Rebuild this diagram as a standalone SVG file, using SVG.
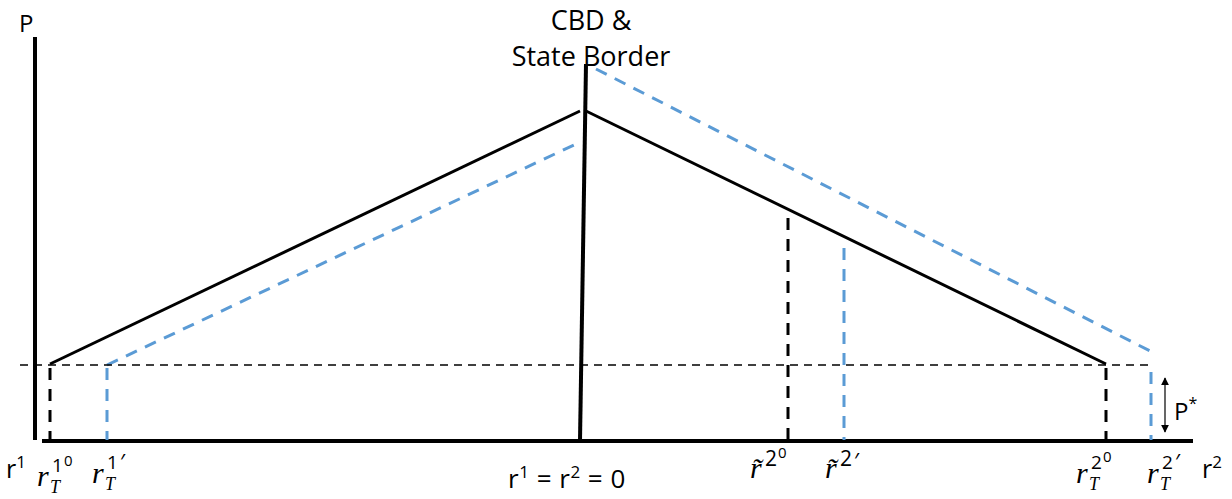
<svg xmlns="http://www.w3.org/2000/svg" width="1232" height="499" viewBox="0 0 1232 499">
<style>
.t{font-family:"Open Sans","Liberation Sans",sans-serif;fill:#000;}
.m{font-family:"Liberation Serif",serif;font-style:italic;fill:#000;}
.ax{stroke:#000;stroke-width:4;fill:none;}
.bl{stroke:#000;stroke-width:3;fill:none;}
.bd{stroke:#000;stroke-width:3;fill:none;stroke-dasharray:12,9;}
.hd{stroke:#000;stroke-width:1.5;fill:none;stroke-dasharray:8,6;}
.ud{stroke:#5b9bd5;stroke-width:3;fill:none;stroke-dasharray:12,9;}
</style>
<defs>
<marker id="ah" viewBox="0 0 10 10" refX="9" refY="5" markerWidth="8" markerHeight="8" orient="auto-start-reverse" markerUnits="userSpaceOnUse">
<path d="M0,0 L10,5 L0,10 z" fill="#000"/>
</marker>
</defs>
<rect width="1232" height="499" fill="#fff"/>
<g id="axes">
<line class="ax" x1="35" y1="37" x2="35" y2="440"/>
<line class="ax" x1="42" y1="441" x2="1193" y2="441"/>
<line class="ax" x1="586" y1="64" x2="580" y2="441"/>
</g>
<g id="connectors">
<line class="bl" x1="50" y1="364" x2="580" y2="111"/>
<line class="bl" x1="586" y1="111" x2="1106" y2="364"/>
<line class="ud" x1="107" y1="365" x2="576" y2="144"/>
<line class="ud" x1="596" y1="69" x2="1152" y2="352"/>
<line class="hd" x1="20" y1="365" x2="1148" y2="365"/>
<line class="bd" x1="50" y1="368" x2="50" y2="440"/>
<line class="ud" x1="107" y1="368" x2="107" y2="440"/>
<line class="bd" x1="788" y1="218" x2="788" y2="440"/>
<line class="ud" x1="844" y1="248" x2="844" y2="440"/>
<line class="bd" x1="1106" y1="368" x2="1106" y2="440"/>
<line class="ud" x1="1151" y1="372" x2="1151" y2="440"/>
<line stroke="#000" stroke-width="1.2" x1="1165" y1="378" x2="1165" y2="432" marker-start="url(#ah)" marker-end="url(#ah)"/>
</g>
<g id="labels">
<text class="t" x="19" y="32" font-size="24">P</text>
<text class="t" x="591" y="30" font-size="27" text-anchor="middle">CBD &amp;</text>
<text class="t" x="591" y="66" font-size="27" text-anchor="middle">State Border</text>
<text class="t" x="1174" y="420" font-size="24">P<tspan font-size="16" dy="-11">*</tspan></text>
<text class="t" x="6" y="478" font-size="25">r<tspan font-size="17" dy="-10">1</tspan></text>
<text class="m" x="37" y="486" font-size="30">r</text><text class="m" x="50" y="493" font-size="18">T</text><text class="t" x="52" y="472" font-size="19">1</text><text class="t" x="64" y="466" font-size="15">0</text>
<text class="m" x="92" y="483" font-size="30">r</text><text class="m" x="105" y="490" font-size="18">T</text><text class="t" x="107" y="469" font-size="19">1</text><text class="t" x="120" y="470" font-size="22">′</text>
<text class="t" x="508" y="488" font-size="26" letter-spacing="0.5">r<tspan font-size="17" dy="-10">1</tspan><tspan dy="10"> = r</tspan><tspan font-size="17" dy="-10">2</tspan><tspan dy="10">  = 0</tspan></text>
<text class="m" x="750" y="478" font-size="30">r̃</text><text class="t" x="765" y="466" font-size="21">2</text><text class="t" x="778" y="458" font-size="15">0</text>
<text class="m" x="825" y="478" font-size="30">r̃</text><text class="t" x="840" y="466" font-size="21">2</text><text class="t" x="854" y="469" font-size="22">′</text>
<text class="m" x="1076" y="483" font-size="30">r</text><text class="m" x="1089" y="490" font-size="18">T</text><text class="t" x="1091" y="469" font-size="19">2</text><text class="t" x="1103" y="462" font-size="15">0</text>
<text class="m" x="1147" y="483" font-size="30">r</text><text class="m" x="1160" y="490" font-size="18">T</text><text class="t" x="1162" y="469" font-size="19">2</text><text class="t" x="1175" y="470" font-size="22">′</text>
<text class="t" x="1202" y="478" font-size="25">r<tspan font-size="17" dy="-10">2</tspan></text>
</g>
</svg>
